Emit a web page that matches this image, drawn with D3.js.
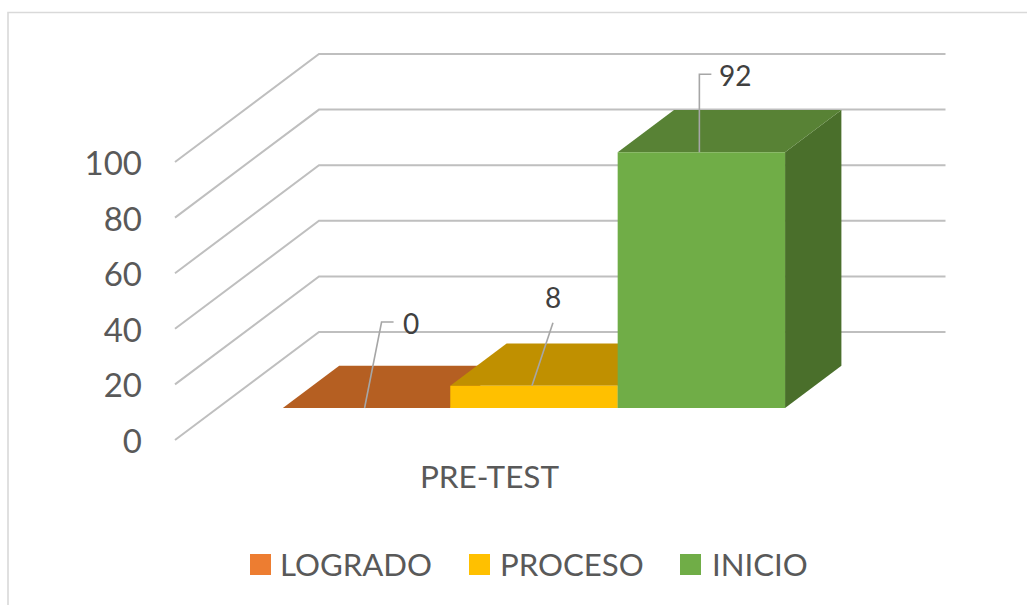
<!DOCTYPE html>
<html><head><meta charset="utf-8">
<script src="https://cdn.jsdelivr.net/npm/d3@7/dist/d3.min.js"></script>
<style>html,body{margin:0;padding:0;background:#fff}svg{display:block}text{font-family:Lato,"Open Sans",sans-serif}</style>
</head><body><svg id="c" width="1027" height="605"></svg>
<script>
const categories = ["PRE-TEST"];
const seriesNames = ["LOGRADO","PROCESO","INICIO"];
const seriesValues = [0,8,92];
const axisTicks = [0,20,40,60,80,100];
const frontColors = ["#ED7D31","#FFC000","#70AD47"];
const topColors = ["#B55F22","#C09000","#588235"];
const sideColors = ["#8F4B1C","#987200","#4A6F2B"];

const svg = d3.select("#c");
svg.append("path").attr("d","M8,605V12.5H1027").attr("fill","none").attr("stroke","#D9D9D9").attr("stroke-width",1.6);

const y = d3.scaleLinear().domain([0,100]).range([440,162]);
const depthX = d3.scaleLinear().domain([0,1]).range([0,144]);
const depthY = d3.scaleLinear().domain([0,1]).range([0,-108]);
const plotX = d3.scaleLinear().domain([0,1]).range([175,801.5]);
const band = d3.scaleBand().domain(seriesNames).range([240.2,742.4]);
const dNear = 0.2963, dFar = 0.6875;
const P = (x,v,d)=>[x+depthX(d), y(v)+depthY(d)];
const poly = pts => "M"+pts.map(p=>p.map(n=>n.toFixed(2)).join(",")).join("L")+"Z";

const grid = svg.append("g").attr("fill","none").attr("stroke","#BFBFBF").attr("stroke-width",2);
axisTicks.forEach(t=>{
  const a=P(plotX(0),t,0), b=P(plotX(0),t,1), c=P(plotX(1),t,1);
  grid.append("path").attr("d",d3.line()([a,b,c]));
});

svg.append("g").selectAll("text").data(axisTicks).join("text")
  .attr("x",142).attr("y",d=>y(d)+13).attr("text-anchor","end")
  .attr("font-size",33).attr("fill","#595959").text(d=>d);

const bars = svg.append("g").selectAll("g").data(seriesNames).join("g");
bars.each(function(name,i){
  const g=d3.select(this), v=seriesValues[i];
  const x0=band(name), x1=x0+band.bandwidth();
  const A=P(x0,0,dNear),B=P(x1,0,dNear),C=P(x1,v,dNear),D=P(x0,v,dNear);
  const E=P(x0,v,dFar),F=P(x1,v,dFar),G=P(x1,0,dFar);
  if(v>0) g.append("path").attr("d",poly([B,G,F,C])).attr("fill",sideColors[i]);
  g.append("path").attr("d",poly([D,E,F,C])).attr("fill",topColors[i]);
  if(v>0) g.append("path").attr("d",poly([A,B,C,D])).attr("fill",frontColors[i]);
});

// leader shapes: offsets from each bar's front-top centre
const leaderBends = [[17,-86,12],[21,-63,0],[0,-78,12]];
const labelX = [403,553,719], labelY = [334,308,86];
const labels = svg.append("g");
seriesNames.forEach((name,i)=>{
  const s=P(band(name)+band.bandwidth()/2-2,seriesValues[i],dNear);
  const [dx,dy,h]=leaderBends[i];
  const pts=[[s[0],s[1]],[s[0]+dx,s[1]+dy]];
  if(h) pts.push([s[0]+dx+h,s[1]+dy]);
  labels.append("path").attr("d",d3.line()(pts)).attr("fill","none").attr("stroke","#A6A6A6").attr("stroke-width",1.6);
});
labels.selectAll("text").data(seriesValues).join("text")
  .attr("x",(d,i)=>labelX[i]).attr("y",(d,i)=>labelY[i])
  .attr("text-anchor",(d,i)=>i===1?"middle":"start")
  .attr("font-size",28).attr("fill","#404040").text(d=>d);

svg.append("g").selectAll("text").data(categories).join("text")
  .attr("x",489.5).attr("y",488).attr("text-anchor","middle")
  .attr("font-size",31.5).attr("fill","#595959").text(d=>d);

const legendX=[250,469,680], legendTx=[280,500,712];
const legend=svg.append("g").selectAll("g").data(seriesNames).join("g");
legend.append("rect").attr("x",(d,i)=>legendX[i]).attr("y",554).attr("width",21).attr("height",21).attr("fill",(d,i)=>frontColors[i]);
legend.append("text").attr("x",(d,i)=>legendTx[i]).attr("y",576).attr("font-size",31.2).attr("fill","#595959").text(d=>d);
</script></body></html>
